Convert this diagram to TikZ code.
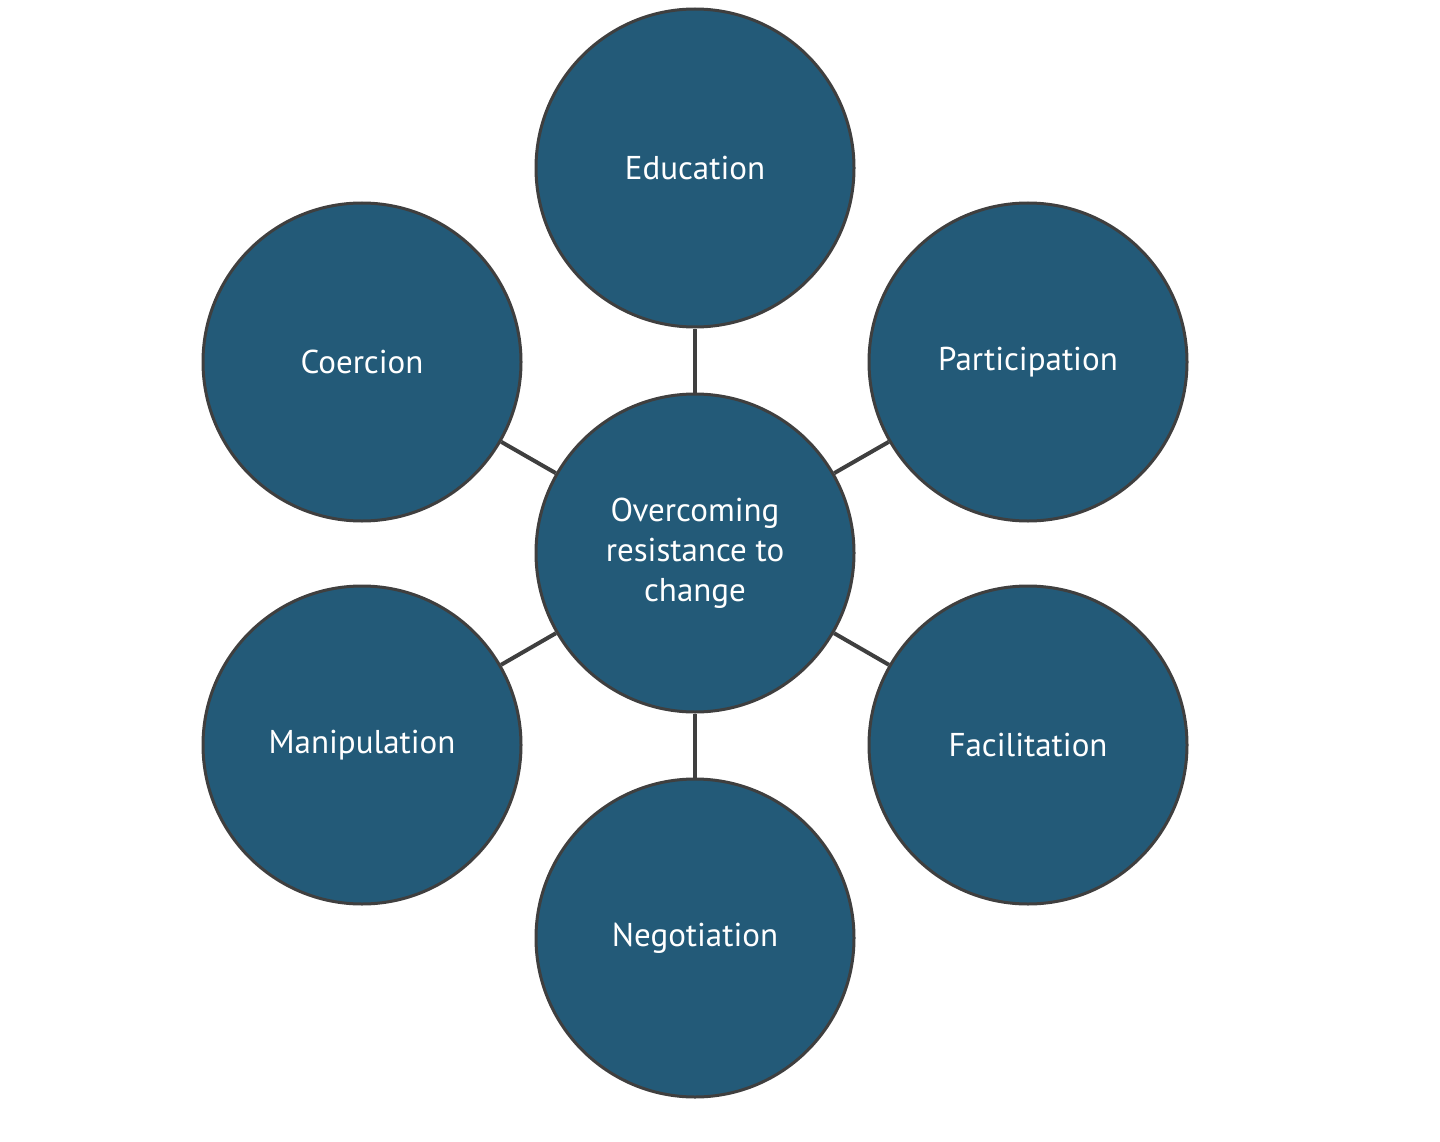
\documentclass[tikz,border=0pt]{standalone}
\usepackage{fontspec}
\setmainfont{PT Sans}
\definecolor{fillblue}{HTML}{235A78}
\definecolor{edgegray}{HTML}{3F3F3F}
\begin{document}
\begin{tikzpicture}[x=1pt,y=-1pt,
  bubble/.style={circle,draw=edgegray,line width=3pt,fill=fillblue,minimum size=318pt,inner sep=0pt,text=white,font=\fontsize{33}{40}\selectfont,align=center},
  link/.style={draw=edgegray,line width=4pt}]
\useasboundingbox (0,0) rectangle (1440,1142);
\node[bubble] (c) at (695,553) {Overcoming\\resistance to\\change};
\node[bubble] (e) at (695,168) {Education};
\node[bubble] (p) at (1028,362) {Participation};
\node[bubble] (f) at (1028,745) {Facilitation};
\node[bubble] (n) at (695,938) {Negotiation};
\node[bubble] (m) at (362,745) {Manipulation};
\node[bubble] (k) at (362,362) {Coercion};
\foreach \t in {e,p,f,n,m,k} \draw[link] (c) -- (\t);
\end{tikzpicture}
\end{document}
